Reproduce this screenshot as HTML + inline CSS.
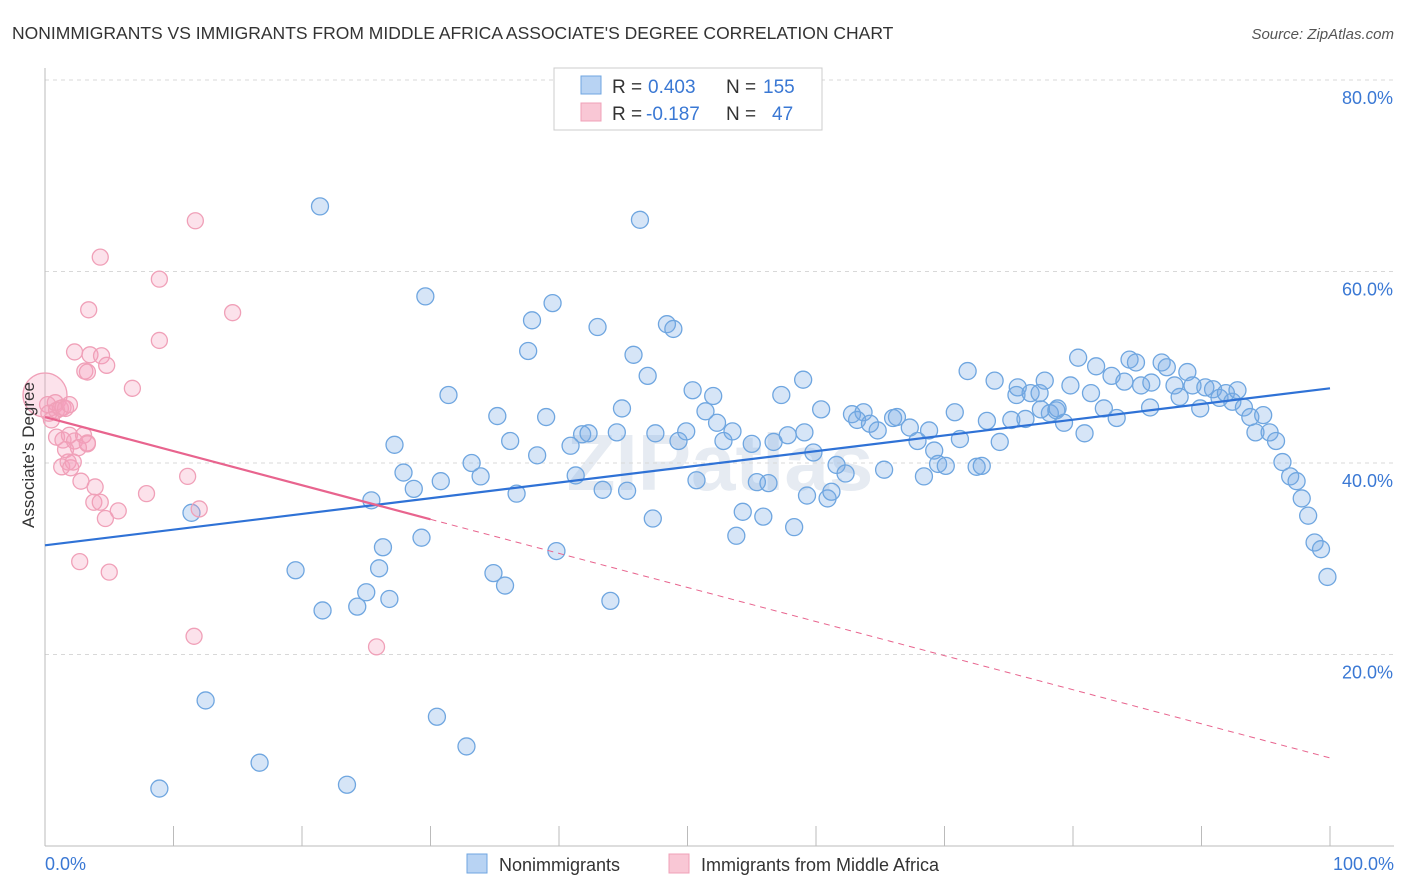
<!DOCTYPE html>
<html><head><meta charset="utf-8">
<style>
body{margin:0;background:#fff;font-family:"Liberation Sans",sans-serif;}
svg{display:block}
</style></head>
<body>
<svg id="chart" width="1406" height="892">
<text x="12" y="39" font-size="17.5" fill="#333">NONIMMIGRANTS VS IMMIGRANTS FROM MIDDLE AFRICA ASSOCIATE'S DEGREE CORRELATION CHART</text>
<text x="1394" y="39" font-size="15" fill="#555" font-style="italic" text-anchor="end">Source: ZipAtlas.com</text>
<text x="720" y="490" font-size="80" fill="#e6ebf2" text-anchor="middle" font-weight="bold">ZIPatlas</text>
<g id="grid"></g>
<g id="axes"></g>
<g id="pts"></g>
<g id="lines"></g>
<text transform="translate(34,455) rotate(-90)" font-size="17" fill="#333" text-anchor="middle">Associate's Degree</text>
<g>
<rect x="554" y="68" width="268" height="62" fill="#fff" stroke="#ccc"/>
<rect x="581" y="76" width="20" height="18" fill="#b8d3f3" stroke="#6fa6e0"/>
<text x="612" y="93" font-size="19" fill="#333">R = </text><text x="648" y="93" font-size="19" fill="#3a78d4">0.403</text>
<text x="726" y="93" font-size="19" fill="#333">N = </text><text x="763" y="93" font-size="19" fill="#3a78d4">155</text>
<rect x="581" y="103" width="20" height="18" fill="#f9c7d5" stroke="#f0a0b8"/>
<text x="612" y="120" font-size="19" fill="#333">R = </text><text x="646" y="120" font-size="19" fill="#3a78d4">-0.187</text>
<text x="726" y="120" font-size="19" fill="#333">N = </text><text x="772" y="120" font-size="19" fill="#3a78d4">47</text>
</g>
<g>
<rect x="467" y="854" width="20" height="19" fill="#b8d3f3" stroke="#6fa6e0"/>
<text x="499" y="871" font-size="18" fill="#333">Nonimmigrants</text>
<rect x="669" y="854" width="20" height="19" fill="#f9c7d5" stroke="#f0a0b8"/>
<text x="701" y="871" font-size="18" fill="#333">Immigrants from Middle Africa</text>
</g>
</svg>
<script>
const yTicks=[20,40,60,80];
const xTickLabels=["0.0%","100.0%"];
const blueX=[21.4,46.3,29.6,39.5,37.9,43.0,48.4,48.9,37.6,45.8,46.9,31.4,50.4,52.0,57.3,59.0,35.2,39.0,44.9,51.4,52.3,53.5,60.4,62.8,63.7,63.2,64.2,64.8,66.0,66.3,67.3,68.8,70.8,71.8,73.9,75.7,75.6,76.7,77.4,77.8,78.2,78.7,79.3,78.8,79.8,80.4,81.4,81.8,82.4,83.0,83.4,84.0,84.4,84.9,85.3,86.1,86.0,86.9,87.3,87.9,88.3,88.9,89.3,90.3,89.9,90.9,91.4,91.9,92.4,92.8,93.3,93.8,94.2,94.8,95.3,95.8,96.3,96.9,97.4,97.8,98.3,98.8,99.3,99.8,27.2,27.9,28.7,30.8,33.2,33.9,36.2,38.3,36.7,40.9,41.3,41.8,42.3,43.4,44.5,45.3,47.5,49.3,49.9,50.7,52.8,55.0,55.4,56.3,56.7,57.8,59.1,59.8,61.6,62.3,65.3,67.9,69.2,69.5,70.1,68.4,71.2,72.5,72.9,74.3,73.3,75.2,76.3,80.9,11.4,25.4,26.3,29.3,47.3,54.3,55.9,53.8,58.3,59.3,60.9,61.2,39.8,19.5,26.0,34.9,35.8,25.0,26.8,44.0,21.6,24.3,12.5,30.5,32.8,16.7,8.9,23.5,77.5];
const blueY=[66.8,65.4,57.4,56.7,54.9,54.2,54.5,54.0,51.7,51.3,49.1,47.1,47.6,47.0,47.1,48.7,44.9,44.8,45.7,45.4,44.2,43.3,45.6,45.1,45.3,44.5,44.1,43.4,44.7,44.8,43.7,43.4,45.3,49.6,48.6,47.9,47.1,47.3,47.3,48.6,45.2,45.5,44.2,45.7,48.1,51.0,47.3,50.1,45.7,49.1,44.7,48.5,50.8,50.5,48.1,48.4,45.8,50.5,50.0,48.1,46.9,49.5,48.1,47.9,45.7,47.7,46.8,47.3,46.4,47.6,45.8,44.8,43.2,45.0,43.2,42.3,40.1,38.6,38.1,36.3,34.5,31.7,31.0,28.1,41.9,39.0,37.3,38.1,40.0,38.6,42.3,40.8,36.8,41.8,38.7,43.0,43.1,37.2,43.2,37.1,43.1,42.3,43.3,38.2,42.3,42.0,38.0,37.9,42.2,42.9,43.2,41.1,39.8,38.9,39.3,42.3,41.3,39.9,39.7,38.6,42.5,39.6,39.7,42.2,44.4,44.5,44.6,43.1,34.8,36.1,31.2,32.2,34.2,34.9,34.4,32.4,33.3,36.6,36.3,37.0,30.8,28.8,29.0,28.5,27.2,26.5,25.8,25.6,24.6,25.0,15.2,13.5,10.4,8.7,6.0,6.4,45.6];
const pinkX=[0,0.2,0.3,0.5,0.8,0.9,1.2,1.4,1.6,1.9,0.9,1.4,1.9,2.3,3.0,3.3,1.6,2.6,1.3,1.8,2.0,2.2,2.8,3.9,3.8,4.3,4.7,5.7,2.7,5.0,2.3,3.5,4.4,4.8,3.1,3.3,6.8,3.4,4.3,11.7,8.9,8.9,14.6,7.9,11.1,12.0,11.6,25.8,3.3];
const pinkY=[47.1,46.1,45.2,44.5,46.3,45.5,45.7,45.8,45.7,46.1,42.7,42.4,42.9,42.3,42.9,42.1,41.4,41.6,39.6,40.1,39.5,40.1,38.1,37.5,35.9,35.9,34.2,35.0,29.7,28.6,51.6,51.3,51.2,50.2,49.6,49.5,47.8,56.0,61.5,65.3,59.2,52.8,55.7,36.8,38.6,35.2,21.9,20.8,42.0];
const blueTrend=[31.4,47.8];
const pinkTrend=[44.8,9.2];
const pinkSolidEnd=30;

const NS="http://www.w3.org/2000/svg";
const X=v=>45+v*12.85, Y=v=>846-v*9.575;
function mk(tag,attrs,parent){const e=document.createElementNS(NS,tag);for(const k in attrs)e.setAttribute(k,attrs[k]);parent.appendChild(e);return e;}
const grid=document.getElementById('grid'),axes=document.getElementById('axes'),pts=document.getElementById('pts'),lines=document.getElementById('lines');
yTicks.forEach(t=>{
 const l=mk('line',{x1:45,x2:1394,y1:Y(t),y2:Y(t),stroke:'#d8d8d8','stroke-dasharray':'4,4'},grid);
 
 
 const tx=mk('text',{x:1393,y:Y(t)+24,'font-size':18,fill:'#3a78d4','text-anchor':'end'},grid);
 tx.textContent=t.toFixed(1)+'%';
 
 
});
const ya=mk('line',{x1:45,x2:45,y1:68,y2:846,stroke:'#bbb'},axes);


const xa=mk('line',{x1:45,x2:1394,y1:846,y2:846,stroke:'#bbb'},axes);


for(let i=0;i<=10;i++){
 const t=mk('line',{x1:X(i*10),x2:X(i*10),y1:826,y2:846,stroke:'#bbb'},axes);
 
 
}
const xl0=mk('text',{x:45,y:870,'font-size':18,fill:'#3a78d4'},axes);xl0.textContent=xTickLabels[0];


const xl1=mk('text',{x:1394,y:870,'font-size':18,fill:'#3a78d4','text-anchor':'end'},axes);xl1.textContent=xTickLabels[1];


blueX.forEach((v,i)=>{
 const c=mk('circle',{cx:X(v),cy:Y(blueY[i]),r:8.5,fill:'rgba(120,170,230,0.3)',stroke:'#6fa6e0','stroke-width':1.3},pts);
 
 
});
pinkX.forEach((v,i)=>{
 const c=mk('circle',{cx:X(v),cy:Y(pinkY[i]),r:i===0?22:8,fill:'rgba(245,160,190,0.3)',stroke:'#f0a0b8','stroke-width':1.3},pts);
 
 
});
const bl=mk('line',{x1:X(0),y1:Y(blueTrend[0]),x2:X(100),y2:Y(blueTrend[1]),stroke:'#2f72d6','stroke-width':2.2},lines);


const py=x=>pinkTrend[0]+(pinkTrend[1]-pinkTrend[0])*x/100;
const ps=mk('line',{x1:X(0),y1:Y(py(0)),x2:X(pinkSolidEnd),y2:Y(py(pinkSolidEnd)),stroke:'#e8648e','stroke-width':2.2},lines);


const pd=mk('line',{x1:X(pinkSolidEnd),y1:Y(py(pinkSolidEnd)),x2:X(100),y2:Y(py(100)),stroke:'#e8648e','stroke-width':1,'stroke-dasharray':'6,5'},lines);


</script>
</body></html>
